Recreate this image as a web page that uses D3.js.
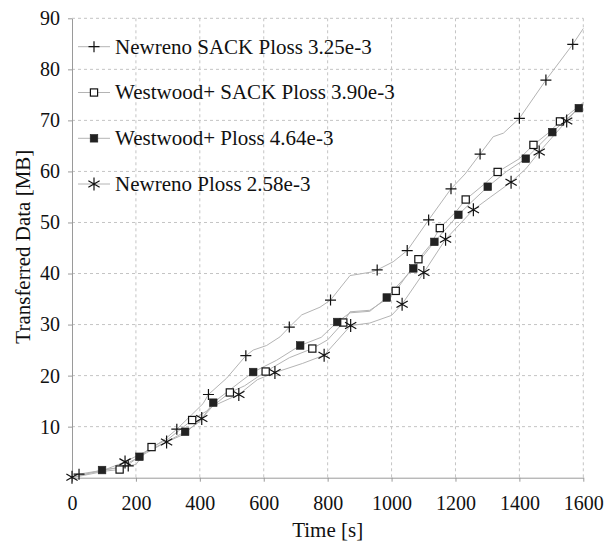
<!DOCTYPE html>
<html>
<head>
<meta charset="utf-8">
<script src="https://cdn.jsdelivr.net/npm/d3@7"></script>
<style>
  body { margin: 0; background: #fff; }
  svg { display: block; }
  text { font-family: "Liberation Serif", "Times New Roman", serif; fill: #111; }
</style>
</head>
<body>
<div id="chart"></div>
<script>
// Data: [time (s), transferred data (MB)]
const xTicks = [0, 200, 400, 600, 800, 1000, 1200, 1400, 1600];
const yTicks = [10, 20, 30, 40, 50, 60, 70, 80, 90];

const newrenoSackLine = [[0, 0], [22, 0.7], [100, 1.5], [176, 2.3], [200, 2.6], [230, 5], [290, 7.5], [328, 9.5], [374, 12.3], [410, 14.5], [427, 16.3], [484, 19.5], [544, 23.9], [567, 25], [609, 25.9], [651, 27.6], [680, 29.5], [719, 31.9], [776, 33.4], [809, 34.8], [870, 39.6], [938, 40.3], [955, 40.7], [1005, 42.3], [1049, 44.5], [1116, 50.5], [1186, 56.6], [1230, 59.5], [1277, 63.4], [1318, 66.8], [1350, 67.5], [1400, 70.4], [1483, 77.9], [1567, 84.9], [1600, 88]];
const newrenoSackMarks = [[22, 0.7], [176, 2.3], [328, 9.5], [427, 16.3], [544, 23.9], [680, 29.5], [809, 34.8], [955, 40.7], [1049, 44.5], [1116, 50.5], [1186, 56.6], [1277, 63.4], [1400, 70.4], [1483, 77.9], [1567, 84.9]];

const westwoodSackLine = [[0, 0], [60, 1.0], [149, 1.6], [175, 2.5], [249, 6.0], [300, 7.5], [376, 11.3], [420, 13], [494, 16.7], [540, 18], [606, 20.8], [680, 23.5], [752, 25.3], [800, 27], [849, 30.4], [870, 32.5], [932, 32.8], [985, 35], [1013, 36.6], [1084, 42.8], [1120, 45.5], [1151, 48.9], [1200, 52], [1232, 54.5], [1290, 57.5], [1332, 59.9], [1400, 62.5], [1444, 65.2], [1490, 67.5], [1527, 69.8], [1600, 73.5]];
const westwoodSackMarks = [[149, 1.6], [249, 6.0], [376, 11.3], [494, 16.7], [606, 20.8], [752, 25.3], [849, 30.4], [1013, 36.6], [1084, 42.8], [1151, 48.9], [1232, 54.5], [1332, 59.9], [1444, 65.2], [1527, 69.8]];

const westwoodLine = [[0, 0], [94, 1.5], [150, 2], [211, 4.1], [280, 6.5], [354, 9.0], [400, 11], [442, 14.7], [500, 17.5], [567, 20.7], [640, 23], [714, 25.9], [780, 27.5], [830, 30.5], [870, 32.3], [932, 32.6], [985, 35.3], [1068, 41.0], [1134, 46.2], [1209, 51.5], [1250, 54], [1301, 57.0], [1360, 60], [1420, 62.5], [1503, 67.7], [1586, 72.4], [1600, 73]];
const westwoodMarks = [[94, 1.5], [211, 4.1], [354, 9.0], [442, 14.7], [567, 20.7], [714, 25.9], [830, 30.5], [985, 35.3], [1068, 41.0], [1134, 46.2], [1209, 51.5], [1301, 57.0], [1420, 62.5], [1503, 67.7], [1586, 72.4]];

const newrenoLine = [[0, 0], [80, 1], [166, 3.1], [210, 4.5], [296, 7.0], [350, 8.5], [406, 11.6], [440, 14], [522, 16.3], [580, 19.2], [635, 20.6], [722, 22.4], [789, 24.0], [872, 29.8], [932, 30.3], [1000, 31.8], [1033, 34.0], [1101, 40.2], [1169, 46.7], [1256, 52.5], [1310, 55], [1374, 57.9], [1420, 60.5], [1462, 63.8], [1548, 69.9], [1600, 73.5]];
const newrenoMarks = [[0, 0.1], [166, 3.1], [296, 7.0], [406, 11.6], [522, 16.3], [635, 20.6], [789, 24.0], [872, 29.8], [1033, 34.0], [1101, 40.2], [1169, 46.7], [1256, 52.5], [1374, 57.9], [1462, 63.8], [1548, 69.9]];

const seriesNames = ["Newreno SACK Ploss 3.25e-3", "Westwood+ SACK Ploss 3.90e-3", "Westwood+ Ploss 4.64e-3", "Newreno Ploss 2.58e-3"];
const seriesMarks = ["plus", "square", "filled", "asterisk"];

const series = [
  { name: seriesNames[0], mark: seriesMarks[0], line: newrenoSackLine, marks: newrenoSackMarks },
  { name: seriesNames[1], mark: seriesMarks[1], line: westwoodSackLine, marks: westwoodSackMarks },
  { name: seriesNames[2], mark: seriesMarks[2], line: westwoodLine, marks: westwoodMarks },
  { name: seriesNames[3], mark: seriesMarks[3], line: newrenoLine, marks: newrenoMarks }
];

const svgWidth = 616, svgHeight = 541;
const margin = { top: 18.3, right: 32.7, bottom: 63.3, left: 72 };
const width = svgWidth - margin.left - margin.right;
const height = svgHeight - margin.top - margin.bottom;
const lineColor = "#b4b4b4";
const axisColor = "#9a9a9a";
const gridColor = "#c4c4c4";

const x = d3.scaleLinear().domain([0, 1600]).range([0, width]);
const y = d3.scaleLinear().domain([0, 90]).range([height, 0]);

const svg = d3.select("#chart").append("svg")
  .attr("width", svgWidth)
  .attr("height", svgHeight);
const g = svg.append("g").attr("transform", `translate(${margin.left},${margin.top})`);

// Grid
g.append("g").attr("class", "grid")
  .selectAll("line.v")
  .data(xTicks.filter(d => d > 0))
  .join("line")
  .attr("x1", d => x(d)).attr("x2", d => x(d))
  .attr("y1", 0).attr("y2", height)
  .attr("stroke", gridColor).attr("stroke-dasharray", "3,3");
g.append("g").attr("class", "grid")
  .selectAll("line.h")
  .data(yTicks)
  .join("line")
  .attr("x1", 0).attr("x2", width)
  .attr("y1", d => y(d)).attr("y2", d => y(d))
  .attr("stroke", gridColor).attr("stroke-dasharray", "3,3");

// Axes
const xAxis = g.append("g")
  .attr("transform", `translate(0,${height})`)
  .call(d3.axisBottom(x).tickValues(xTicks).tickFormat(d3.format("d")).tickSize(4).tickPadding(14).tickSizeOuter(0));
const yAxis = g.append("g")
  .call(d3.axisLeft(y).tickValues(yTicks).tickFormat(d3.format("d")).tickSize(4).tickPadding(8).tickSizeOuter(0));
[xAxis, yAxis].forEach(a => {
  a.select(".domain").attr("stroke", axisColor);
  a.selectAll(".tick line").attr("stroke", axisColor);
  a.selectAll(".tick text")
    .attr("fill", "#111")
    .style("font-family", "'Liberation Serif', serif")
    .style("font-size", "20px");
});

// Axis titles
svg.append("text")
  .attr("x", margin.left + width / 2)
  .attr("y", 536.5)
  .attr("text-anchor", "middle")
  .style("font-size", "21px")
  .text("Time [s]");
svg.append("text")
  .attr("transform", "translate(29.5,246.7) rotate(-90)")
  .attr("text-anchor", "middle")
  .style("font-size", "21px")
  .text("Transferred Data [MB]");

// Markers
function drawMark(sel, type) {
  if (type === "plus") {
    sel.append("path").attr("d", "M-5.5,0H5.5M0,-5.5V5.5")
      .attr("stroke", "#111").attr("stroke-width", 1.2).attr("fill", "none");
  } else if (type === "square") {
    sel.append("rect").attr("x", -3.6).attr("y", -3.6).attr("width", 7.2).attr("height", 7.2)
      .attr("fill", "#fff").attr("stroke", "#111").attr("stroke-width", 1.2);
  } else if (type === "filled") {
    sel.append("rect").attr("x", -3.8).attr("y", -3.8).attr("width", 7.6).attr("height", 7.6)
      .attr("fill", "#222").attr("stroke", "#222").attr("stroke-width", 0.6);
  } else {
    const r = 6.5;
    const c = Math.cos(Math.PI / 6) * r, s = Math.sin(Math.PI / 6) * r;
    sel.append("path")
      .attr("d", `M0,${-r}V${r}M${-c},${-s}L${c},${s}M${-c},${s}L${c},${-s}`)
      .attr("stroke", "#111").attr("stroke-width", 1.2).attr("fill", "none");
  }
}

const line = d3.line().x(d => x(d[0])).y(d => y(d[1]));

g.append("g").attr("class", "lines")
  .selectAll("path")
  .data(series)
  .join("path")
  .attr("fill", "none")
  .attr("stroke", lineColor)
  .attr("stroke-width", 1)
  .attr("d", d => line(d.line));

series.forEach(s => {
  g.append("g").attr("class", "marks")
    .selectAll("g")
    .data(s.marks)
    .join("g")
    .attr("transform", d => `translate(${x(d[0])},${y(d[1])})`)
    .each(function() { drawMark(d3.select(this), s.mark); });
});

// Legend
const legend = svg.append("g").attr("class", "legend");
const legendRows = [46.7, 92.5, 138.3, 184];
series.forEach((s, i) => {
  const row = legend.append("g").attr("transform", `translate(0,${legendRows[i]})`);
  row.append("line").attr("x1", 78).attr("x2", 110).attr("y1", 0).attr("y2", 0)
    .attr("stroke", lineColor).attr("stroke-width", 1);
  drawMark(row.append("g").attr("transform", "translate(94,0)"), s.mark);
  row.append("text").attr("x", 115).attr("y", 6.8)
    .style("font-size", "21px")
    .text(s.name);
});
</script>
</body>
</html>
